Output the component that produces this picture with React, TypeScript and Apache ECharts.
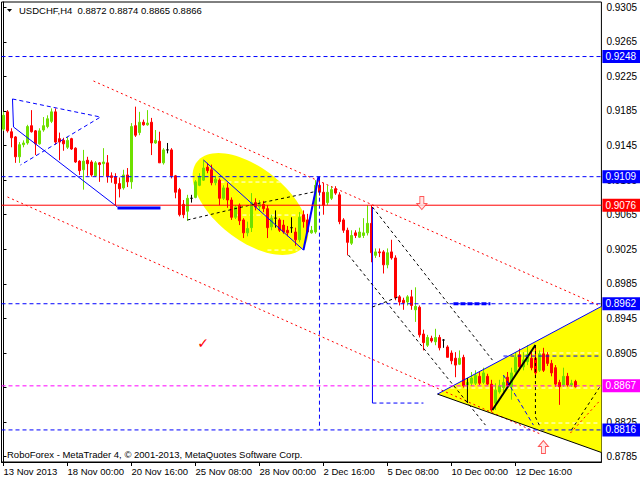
import React, { useEffect, useRef } from "react";
import * as echarts from "echarts";

const FONT = '"Liberation Sans", Arial, sans-serif';
const BLUE = "#0000ff";
const RED = "#ff0000";
const MAGENTA = "#ff00ff";
const GREEN = "#6ee000";
const BLACK = "#000000";
const YELLOW = "#ffff00";

const symbolName = "USDCHF,H4";
const copyright = "RoboForex - MetaTrader 4, \u00a9 2001-2013, MetaQuotes Software Corp.";

// ---- candles (H4 bars, 13 Nov 2013 08:00 onward) ----
const opens = [
  0.9164, 0.9184, 0.9161, 0.9155, 0.9132, 0.9146, 0.9148, 0.9168, 0.9162, 0.9147,
  0.9163, 0.9167, 0.9173, 0.9184, 0.9153, 0.9151, 0.9143, 0.9153, 0.9142, 0.9127,
  0.9117, 0.9128, 0.9126, 0.9110, 0.9125, 0.9124, 0.9125, 0.9110, 0.9109, 0.9101,
  0.9096, 0.9111, 0.9103, 0.9168, 0.9160, 0.9172, 0.9169, 0.9172, 0.9148, 0.9150,
  0.9125, 0.9140, 0.9140, 0.9110, 0.9094, 0.9077, 0.9069, 0.9084, 0.9085, 0.9099,
  0.9105, 0.9120, 0.9117, 0.9102, 0.9105, 0.9084, 0.9096, 0.9082, 0.9062, 0.9076,
  0.9059, 0.9044, 0.9050, 0.9079, 0.9074, 0.9077, 0.9072, 0.9051, 0.9061, 0.9059,
  0.9053, 0.9047, 0.9050, 0.9045, 0.9036, 0.9065, 0.9059, 0.9044, 0.9045, 0.9099,
  0.9091, 0.9079, 0.9084, 0.9095, 0.9088, 0.9059, 0.9047, 0.9032, 0.9044, 0.9039,
  0.9041, 0.9044, 0.9055, 0.9018, 0.9022, 0.9022, 0.9007, 0.9022, 0.9015, 0.8970,
  0.8966, 0.8964, 0.8970, 0.8955, 0.8958, 0.8927, 0.8914, 0.8922, 0.8918, 0.8923,
  0.8920, 0.8912, 0.8905, 0.8899, 0.8892, 0.8900, 0.8868, 0.8870, 0.8870, 0.8878,
  0.8871, 0.8878, 0.8869, 0.8847, 0.8860, 0.8865, 0.8877, 0.8866, 0.8883, 0.8903,
  0.8889, 0.8895, 0.8899, 0.8899, 0.8885, 0.8904, 0.8903, 0.8893, 0.8888, 0.8871,
  0.8868, 0.8878, 0.8868, 0.8872,
];
const closes = [
  0.9180, 0.9162, 0.9154, 0.9132, 0.9146, 0.9148, 0.9167, 0.9161, 0.9147, 0.9162,
  0.9168, 0.9176, 0.9184, 0.9149, 0.9149, 0.9147, 0.9151, 0.9141, 0.9126, 0.9116,
  0.9127, 0.9124, 0.9111, 0.9125, 0.9123, 0.9126, 0.9109, 0.9108, 0.9101, 0.9095,
  0.9111, 0.9103, 0.9167, 0.9157, 0.9172, 0.9169, 0.9171, 0.9148, 0.9151, 0.9125,
  0.9140, 0.9140, 0.9110, 0.9091, 0.9065, 0.9065, 0.9084, 0.9084, 0.9103, 0.9109,
  0.9119, 0.9116, 0.9102, 0.9106, 0.9084, 0.9096, 0.9082, 0.9062, 0.9074, 0.9058,
  0.9044, 0.9049, 0.9079, 0.9074, 0.9077, 0.9072, 0.9050, 0.9061, 0.9061, 0.9047,
  0.9045, 0.9044, 0.9050, 0.9036, 0.9062, 0.9057, 0.9045, 0.9047, 0.9099, 0.9091,
  0.9076, 0.9091, 0.9094, 0.9090, 0.9057, 0.9047, 0.9033, 0.9041, 0.9041, 0.9045,
  0.9044, 0.9055, 0.9021, 0.9022, 0.9021, 0.9007, 0.9021, 0.9015, 0.8969, 0.8964,
  0.8963, 0.8970, 0.8960, 0.8959, 0.8926, 0.8917, 0.8923, 0.8919, 0.8923, 0.8911,
  0.8920, 0.8900, 0.8896, 0.8891, 0.8899, 0.8867, 0.8871, 0.8876, 0.8879, 0.8870,
  0.8882, 0.8869, 0.8839, 0.8862, 0.8867, 0.8871, 0.8867, 0.8882, 0.8900, 0.8889,
  0.8897, 0.8903, 0.8888, 0.8882, 0.8904, 0.8885, 0.8893, 0.8882, 0.8869, 0.8866,
  0.8878, 0.8868, 0.8870, 0.8866,
];
const highs = [
  0.9184, 0.9186, 0.9165, 0.9156, 0.9149, 0.9151, 0.9169, 0.9186, 0.9163, 0.9165,
  0.9178, 0.9180, 0.9188, 0.9188, 0.9160, 0.9154, 0.9155, 0.9154, 0.9143, 0.9128,
  0.9140, 0.9132, 0.9128, 0.9127, 0.9126, 0.9142, 0.9134, 0.9114, 0.9113, 0.9108,
  0.9117, 0.9119, 0.9171, 0.9190, 0.9184, 0.9175, 0.9186, 0.9177, 0.9163, 0.9161,
  0.9142, 0.9148, 0.9142, 0.9111, 0.9096, 0.9082, 0.9088, 0.9088, 0.9105, 0.9113,
  0.9128, 0.9125, 0.9123, 0.9110, 0.9107, 0.9099, 0.9102, 0.9085, 0.9076, 0.9078,
  0.9061, 0.9057, 0.9090, 0.9084, 0.9082, 0.9081, 0.9076, 0.9065, 0.9070, 0.9061,
  0.9059, 0.9052, 0.9062, 0.9050, 0.9068, 0.9070, 0.9066, 0.9052, 0.9105, 0.9109,
  0.9102, 0.9099, 0.9098, 0.9098, 0.9091, 0.9061, 0.9050, 0.9047, 0.9047, 0.9050,
  0.9061, 0.9076, 0.9076, 0.9026, 0.9026, 0.9024, 0.9026, 0.9036, 0.9018, 0.8972,
  0.8969, 0.8972, 0.8978, 0.8981, 0.8960, 0.8932, 0.8926, 0.8925, 0.8933, 0.8926,
  0.8921, 0.8914, 0.8908, 0.8906, 0.8908, 0.8903, 0.8876, 0.8883, 0.8885, 0.8883,
  0.8888, 0.8881, 0.8874, 0.8870, 0.8874, 0.8879, 0.8883, 0.8888, 0.8906, 0.8910,
  0.8906, 0.8914, 0.8908, 0.8914, 0.8908, 0.8911, 0.8906, 0.8897, 0.8891, 0.8874,
  0.8888, 0.8882, 0.8874, 0.8874,
];
const lows = [
  0.9162, 0.9160, 0.9143, 0.9125, 0.9125, 0.9143, 0.9146, 0.9160, 0.9134, 0.9146,
  0.9161, 0.9165, 0.9171, 0.9146, 0.9128, 0.9139, 0.9141, 0.9140, 0.9125, 0.9111,
  0.9094, 0.9110, 0.9109, 0.9109, 0.9103, 0.9110, 0.9102, 0.9102, 0.9076, 0.9085,
  0.9094, 0.9097, 0.9095, 0.9155, 0.9157, 0.9168, 0.9168, 0.9134, 0.9147, 0.9125,
  0.9123, 0.9136, 0.9107, 0.9084, 0.9063, 0.9061, 0.9058, 0.9079, 0.9084, 0.9098,
  0.9104, 0.9113, 0.9099, 0.9099, 0.9076, 0.9082, 0.9073, 0.9059, 0.9060, 0.9053,
  0.9038, 0.9040, 0.9045, 0.9070, 0.9070, 0.9068, 0.9038, 0.9047, 0.9050, 0.9045,
  0.9043, 0.9040, 0.9044, 0.9029, 0.9033, 0.9050, 0.9043, 0.9043, 0.9043, 0.9087,
  0.9065, 0.9076, 0.9082, 0.9088, 0.9054, 0.9044, 0.9018, 0.9030, 0.9038, 0.9038,
  0.9038, 0.9041, 0.9010, 0.9015, 0.9016, 0.8997, 0.9003, 0.9013, 0.8966, 0.8960,
  0.8955, 0.8960, 0.8955, 0.8941, 0.8923, 0.8908, 0.8912, 0.8917, 0.8914, 0.8908,
  0.8911, 0.8900, 0.8892, 0.8877, 0.8891, 0.8865, 0.8866, 0.8867, 0.8868, 0.8868,
  0.8869, 0.8868, 0.8837, 0.8839, 0.8858, 0.8860, 0.8865, 0.8851, 0.8881, 0.8885,
  0.8885, 0.8891, 0.8885, 0.8876, 0.8883, 0.8883, 0.8890, 0.8878, 0.8866, 0.8845,
  0.8866, 0.8866, 0.8866, 0.8865,
];

// ---- axes ----
const barSlots = 150; // bars plus right-hand chart shift
const xTickStep = 16;
const xTickLabels = [
  "13 Nov 2013", "18 Nov 00:00", "20 Nov 16:00", "25 Nov 08:00", "28 Nov 00:00",
  "2 Dec 16:00", "5 Dec 08:00", "10 Dec 00:00", "12 Dec 16:00",
];
const yTickValues = [
  0.9305, 0.9265, 0.9225, 0.9185, 0.9145, 0.9105, 0.9065, 0.9025, 0.8985, 0.8945,
  0.8905, 0.8865, 0.8825, 0.8785,
];
const yMin = 0.87789;
const yMax = 0.93111;

// ---- horizontal levels ----
const levelValues = [0.9248, 0.9109, 0.9076, 0.8962, 0.8867, 0.8816];
const levelColors = [BLUE, BLUE, RED, BLUE, MAGENTA, BLUE];
const levelSolid = [false, false, true, false, false, false];

// ---- drawing objects, [bar index, price] ----
const blueTriangleTopLeft = [[2.25, 0.91989], [24.25, 0.9178], [4.25, 0.91225]];
const blueTrendTopLeft = [[2.25, 0.91989], [2.5, 0.91665], [28.5, 0.90739]];
const blueBaseTopLeft = [[28.5, 0.90727], [39.25, 0.90727]];
const redChannelUpper = [[22.5, 0.92197], [149.25, 0.89593]];
const redChannelLower = [[1, 0.90855], [134.25, 0.88112]];
const redShortRight = [[141.75, 0.88124], [149.25, 0.88506]];
const blueWaveDown = [[50, 0.91283], [75, 0.90241]];
const blueWaveUp = [[75, 0.90241], [78.75, 0.9109]];
const blueTimeLine = [[79, 0.9109], [79, 0.8816]];
const blackArc = [[46, 0.90589], [61.75, 0.90762], [77.5, 0.90913]];
const blueDropLine = [[92.25, 0.90739], [92.25, 0.88471]];
const blueDropBase = [[92.25, 0.88471], [105, 0.88471]];
const fanLine1 = [[92.25, 0.90739], [122.25, 0.88968]];
const fanLine2 = [[86.25, 0.90184], [120.5, 0.88216]];
const fanCross = [[92.25, 0.89582], [99.25, 0.89709]];
const triangleApex = [108.5, 0.88575];
const triangleUpper = [149.5, 0.89589];
const triangleLower = [149.5, 0.87899];
const zigVertical = [[116, 0.8876], [116, 0.88471]];
const zigUp = [[122.25, 0.8839], [133, 0.89142]];
const zigDropDashed = [[133, 0.89142], [133, 0.88309], [134.25, 0.88189]];
const blackDashRight = [[142, 0.8816], [149.25, 0.88668]];
const blueDashInner = [[125, 0.88795], [132.5, 0.88216]];
const blueFibTriangle = [[125, 0.89015], [149.25, 0.89015]];
const blueThickLevel = [[112.5, 0.8962], [121.75, 0.8962]];
const whiteDashes = [
  [[52.5, 0.91028], [75.5, 0.91028]],
  [[58, 0.90646], [76.75, 0.90646]],
  [[66, 0.90241], [73.5, 0.90241]],
  [[125, 0.8905], [149.25, 0.8905]],
  [[110, 0.88645], [149.25, 0.88645]],
  [[133.5, 0.8824], [149.25, 0.8824]],
];
const ellipseMajor = [[48.4, 0.91264], [75.1, 0.90283]];
const ellipseMinor = [56.15, 0.90447];
const checkMark = [49.9, 0.89171];
const arrowDown = [104.6, 0.90785];
const arrowUp = [135, 0.87962];

function lineSeries(pts: number[][], color: string, dash: any, width: number, z = 3) {
  return {
    type: "line",
    xAxisIndex: 1,
    yAxisIndex: 0,
    data: pts,
    showSymbol: false,
    symbol: "none",
    silent: true,
    z,
    lineStyle: { color, type: dash, width },
    animation: false,
  };
}

function buildOption() {
  const last = opens.length - 1;
  const titleText = `${symbolName}  ${opens[last].toFixed(4)} ${highs[last].toFixed(4)} ${lows[last].toFixed(4)} ${closes[last].toFixed(4)}`;
  const categories = Array.from({ length: barSlots }, (_, i) => String(i));
  const candleData = opens.map((o, i) => [o, closes[i], lows[i], highs[i]]);
  const showTick = (i: number) => i % xTickStep === 0 && i / xTickStep < xTickLabels.length;

  const ellipseSeries = {
    type: "custom",
    xAxisIndex: 1,
    yAxisIndex: 0,
    z: 1,
    silent: true,
    data: [0],
    renderItem: (_p: any, api: any) => {
      const p1 = api.coord(ellipseMajor[0]);
      const p2 = api.coord(ellipseMajor[1]);
      const pm = api.coord(ellipseMinor);
      const cx = (p1[0] + p2[0]) / 2;
      const cy = (p1[1] + p2[1]) / 2;
      const ux = p2[0] - cx;
      const uy = p2[1] - cy;
      const a = Math.hypot(ux, uy);
      const b = Math.hypot(pm[0] - cx, pm[1] - cy);
      const vx = (-uy / a) * b;
      const vy = (ux / a) * b;
      const pts: number[][] = [];
      for (let k = 0; k < 96; k++) {
        const t = (k / 96) * Math.PI * 2;
        pts.push([cx + ux * Math.cos(t) + vx * Math.sin(t), cy + uy * Math.cos(t) + vy * Math.sin(t)]);
      }
      return { type: "polygon", shape: { points: pts }, style: { fill: YELLOW } };
    },
  };

  const triangleSeries = {
    type: "custom",
    xAxisIndex: 1,
    yAxisIndex: 0,
    z: 1,
    silent: true,
    data: [0],
    renderItem: (_p: any, api: any) => ({
      type: "polygon",
      shape: { points: [api.coord(triangleApex), api.coord(triangleUpper), api.coord(triangleLower)] },
      style: { fill: YELLOW },
    }),
  };

  const checkSeries = {
    type: "custom",
    xAxisIndex: 1,
    yAxisIndex: 0,
    z: 5,
    silent: true,
    data: [checkMark],
    renderItem: (_p: any, api: any) => {
      const c = api.coord(checkMark);
      return {
        type: "text",
        x: c[0],
        y: c[1],
        style: { text: "\u2713", fill: RED, font: 'bold 14px "DejaVu Sans"', align: "center", verticalAlign: "middle" },
      };
    },
  };

  const drawings = [
    lineSeries(blueTriangleTopLeft, BLUE, [4, 3], 1),
    lineSeries(blueTrendTopLeft, BLUE, "solid", 1),
    lineSeries(blueBaseTopLeft, BLUE, "solid", 3),
    lineSeries(redChannelUpper, RED, [2, 3], 1),
    lineSeries(redChannelLower, RED, [2, 3], 1),
    lineSeries(redShortRight, RED, [2, 3], 1),
    lineSeries(blueWaveDown, BLUE, "solid", 1),
    lineSeries(blueWaveUp, BLUE, "solid", 2),
    lineSeries(blueTimeLine, BLUE, [4, 3], 1),
    lineSeries(blackArc, BLACK, [3, 3], 1),
    lineSeries(blueDropLine, BLUE, "solid", 1),
    lineSeries(blueDropBase, BLUE, [4, 3], 1),
    lineSeries(fanLine1, BLACK, [3, 3], 1),
    lineSeries(fanLine2, BLACK, [3, 3], 1),
    lineSeries(fanCross, BLACK, [3, 3], 1),
    lineSeries([triangleApex, triangleUpper], BLUE, "solid", 1),
    lineSeries([triangleApex, triangleLower], BLACK, "solid", 1),
    lineSeries(zigVertical, BLACK, "solid", 1),
    lineSeries(zigUp, BLACK, "solid", 2),
    lineSeries(zigDropDashed, BLACK, [3, 3], 1),
    lineSeries(blackDashRight, BLACK, [3, 3], 1),
    lineSeries(blueDashInner, BLUE, [4, 3], 1),
    lineSeries(blueFibTriangle, BLUE, [4, 3], 1),
    lineSeries(blueThickLevel, BLUE, [5, 2], 3),
  ];
  const whiteSeries = whiteDashes.map((pts) => lineSeries(pts, "#ffffff", [4, 3], 1, 1));

  const levelSeries = levelValues.map((v, i) => ({
    type: "line",
    xAxisIndex: 1,
    yAxisIndex: 0,
    data: [[-0.5, v], [barSlots - 0.5, v]],
    showSymbol: false,
    symbol: "none",
    silent: true,
    z: 4,
    animation: false,
    lineStyle: { color: levelColors[i], type: levelSolid[i] ? "solid" : [4, 3], width: 1 },
    endLabel: {
      show: true,
      distance: 1,
      formatter: () => v.toFixed(4),
      color: "#ffffff",
      backgroundColor: levelColors[i],
      padding: [2, 8, 1, 3],
      fontFamily: FONT,
      fontSize: 10,
    },
  }));

  return {
    animation: false,
    backgroundColor: "#ffffff",
    grid: { left: 1.5, right: 38.5, top: 2, bottom: 18, show: true, borderColor: BLACK, borderWidth: 1, backgroundColor: "transparent" },
    xAxis: [
      {
        type: "category",
        data: categories,
        boundaryGap: true,
        axisLine: { show: true, lineStyle: { color: BLACK, width: 1 } },
        axisTick: { show: true, interval: (i: number) => showTick(i), alignWithLabel: true, length: 4, lineStyle: { color: BLACK } },
        axisLabel: {
          interval: (i: number) => showTick(i),
          formatter: (_v: string, i: number) => xTickLabels[i / xTickStep] ?? "",
          align: "left",
          margin: 4,
          color: BLACK,
          fontFamily: FONT,
          fontSize: 9.5,
        },
        splitLine: { show: false },
      },
      { type: "value", min: -0.5, max: barSlots - 0.5, show: false },
    ],
    yAxis: {
      type: "value",
      position: "right",
      min: yMin,
      max: yMax,
      axisLine: { show: true, lineStyle: { color: BLACK } },
      axisTick: { show: true, customValues: yTickValues, length: 3, lineStyle: { color: BLACK } },
      axisLabel: {
        customValues: yTickValues,
        formatter: (v: number) => v.toFixed(4),
        margin: 5,
        color: BLACK,
        fontFamily: FONT,
        fontSize: 10,
      },
      splitLine: { show: false },
    },
    series: [
      ellipseSeries,
      triangleSeries,
      ...whiteSeries,
      {
        type: "candlestick",
        xAxisIndex: 0,
        yAxisIndex: 0,
        data: candleData,
        barWidth: 3,
        z: 2,
        silent: true,
        itemStyle: {
          color: GREEN,
          color0: RED,
          borderColor: GREEN,
          borderColor0: RED,
          borderColorDoji: BLACK,
          borderWidth: 1,
        },
      },
      ...drawings,
      ...levelSeries,
      {
        type: "scatter",
        xAxisIndex: 1,
        yAxisIndex: 0,
        z: 5,
        silent: true,
        data: [arrowDown],
        symbol: "path://M3,0L7,0L7,7L10,7L5,13L0,7L3,7Z",
        symbolSize: [10, 13],
        itemStyle: { color: "#ffe0e0", borderColor: "#ff3030", borderWidth: 1 },
      },
      {
        type: "scatter",
        xAxisIndex: 1,
        yAxisIndex: 0,
        z: 5,
        silent: true,
        data: [arrowUp],
        symbol: "path://M5,0L10,6L7,6L7,13L3,13L3,6L0,6Z",
        symbolSize: [10, 13],
        itemStyle: { color: "#ffe0e0", borderColor: "#ff3030", borderWidth: 1 },
      },
      checkSeries,
    ],
    graphic: [
      { type: "polygon", shape: { points: [[7, 9], [12, 9], [9.5, 12]] }, style: { fill: BLACK }, z: 10 },
      { type: "text", left: 19, top: 5, z: 10, style: { text: titleText, fill: BLACK, font: `9.5px ${FONT}` } },
      { type: "text", left: 7, top: 449, z: 10, style: { text: copyright, fill: BLACK, font: `9.5px ${FONT}` } },
    ],
  };
}

export default function App() {
  const ref = useRef<HTMLDivElement>(null);
  useEffect(() => {
    document.body.style.margin = "0";
    const chart = echarts.init(ref.current!, null, { renderer: "svg" });
    chart.setOption(buildOption() as any);
    return () => chart.dispose();
  }, []);
  return (
    <div
      ref={ref}
      style={{ position: "fixed", left: 0, top: 0, width: 640, height: 480, background: "#ffffff" }}
    />
  );
}
